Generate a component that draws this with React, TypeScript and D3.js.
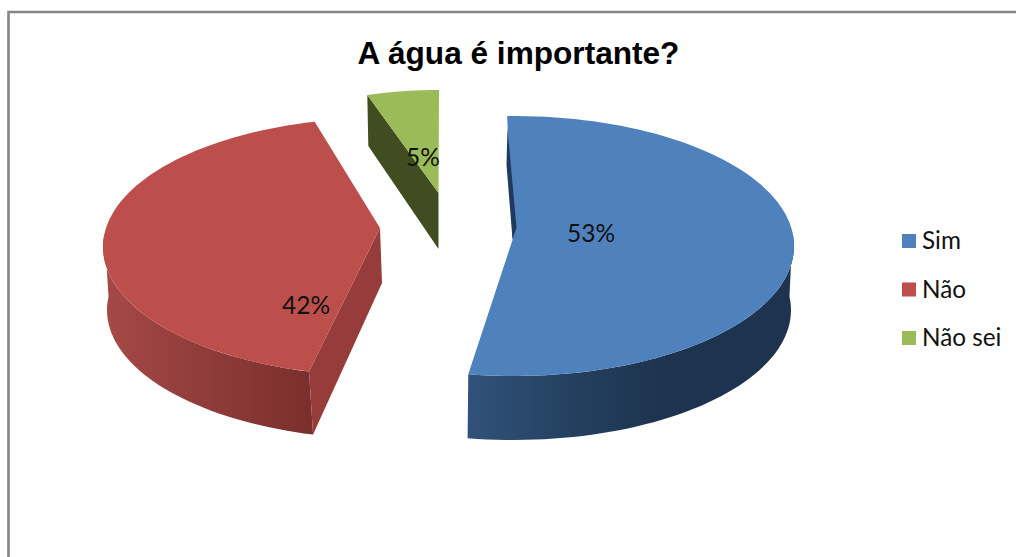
import React from "react";
import * as d3 from "d3";

// Survey answers, in percent
const categories = ["Sim", "Não", "Não sei"];
const shares = [53, 42, 5];
const titleText = "A água é importante?";

const faceColors = ["#4f81bd", "#bc4f4c", "#9bbb59"];
const cutColors = ["#1f3a5c", "#963c3a", "#414d20"];

type Pt = [number, number];

// Each exploded slice has its own projected ellipse, since the perspective
// shifts and scales the pieces differently. `shift` and `inset` move and shrink
// the lower rim relative to the upper one.
const slicePlacement = [
  { cx: 514, cy: 246, rx: 280, ry: 130, tilt: -1.4, apex: [512.5, 240] as Pt, depth: 64, inset: 2, shift: -1 },
  { cx: 381, cy: 247, rx: 278, ry: 129, tilt: 4.2, apex: [380, 228] as Pt, depth: 63, inset: 0, shift: 4 },
  { cx: 439, cy: 193, rx: 232, ry: 103, tilt: 0, apex: [438.5, 193] as Pt, depth: 52, inset: 0, shift: 0 },
];

const labelSpots: Pt[] = [[591, 242], [306, 314], [423, 166]];

const pieAngles = d3.pie<number>().sort(null)(shares);
const toDeg = (r: number) => (r * 180) / Math.PI;
const line = d3.line<Pt>();

function rimPoints(
  p: (typeof slicePlacement)[number],
  a0: number,
  a1: number,
  dy = 0,
  inset = 0,
  dx = 0,
): Pt[] {
  const n = Math.max(2, Math.ceil(Math.abs(a1 - a0) / 2));
  return d3.range(n + 1).map((i) => {
    const t = ((a0 + ((a1 - a0) * i) / n) * Math.PI) / 180;
    return [p.cx + dx + (p.rx - inset) * Math.sin(t), p.cy + dy - p.ry * Math.cos(t)] as Pt;
  });
}

export default function App() {
  const legendY = d3.scaleLinear().domain([0, 2]).range([241, 338]);

  const slices = pieAngles.map((arc, i) => {
    const p = slicePlacement[i];
    const a0 = toDeg(arc.startAngle) + p.tilt;
    const a1 = toDeg(arc.endAngle) + p.tilt;
    return { i, p, a0, a1, rim: rimPoints(p, a0, a1) };
  });

  const frontWall = (s: (typeof slices)[number]) => {
    // Only the part of the rim that faces the viewer gets a wall
    const from = Math.max(s.a0, 84);
    const to = Math.min(s.a1, 276);
    if (to <= from) return null;
    const top = rimPoints(s.p, from, to);
    const bottom = rimPoints(s.p, from, to, s.p.depth, s.p.inset, s.p.shift).reverse();
    return line([...top, ...bottom]) + "Z";
  };

  const blue = slices[0];
  const red = slices[1];
  const green = slices[2];
  const redEnd = red.rim[0];
  const greenStart = green.rim[0];
  const [bax, bay] = blue.p.apex;
  const [rax, ray] = red.p.apex;
  const [gax, gay] = green.p.apex;

  const cutWalls: { pts: Pt[]; fill: string }[] = [
    {
      fill: cutColors[0],
      pts: [[bax - 5, bay - 112], [bax - 6, bay - 75], [bax, bay - 1], [bax + 4, bay - 12]],
    },
    {
      fill: cutColors[1],
      pts: [[rax, ray], [rax + 2, ray + 55], [redEnd[0] + red.p.shift, redEnd[1] + red.p.depth], redEnd],
    },
    {
      fill: cutColors[2],
      pts: [greenStart, [gax, gay], [gax, gay + 56], [greenStart[0] + 1, greenStart[1] + 51]],
    },
  ];

  return (
    <svg
      width={1016}
      height={557}
      viewBox="0 0 1016 557"
      style={{ position: "absolute", left: 0, top: 0, background: "#fff" }}
    >
      <defs>
        <linearGradient id="wall-blue" gradientUnits="userSpaceOnUse" x1={468} x2={660} y1={0} y2={0}>
          <stop offset="0" stopColor="#30527a" />
          <stop offset="0.55" stopColor="#23405f" />
          <stop offset="1" stopColor="#1e334f" />
        </linearGradient>
        <linearGradient id="wall-red" gradientUnits="userSpaceOnUse" x1={312} x2={105} y1={0} y2={0}>
          <stop offset="0" stopColor="#7a2f2d" />
          <stop offset="0.55" stopColor="#913d3b" />
          <stop offset="1" stopColor="#a54946" />
        </linearGradient>
      </defs>

      <path d="M8.5,557V12H1016" fill="none" stroke="#868686" strokeWidth={2.6} />

      <text
        x={518.5}
        y={64}
        textAnchor="middle"
        fontFamily="'Liberation Sans', Arial, sans-serif"
        fontWeight={700}
        fontSize={31.6}
        fill="#000"
      >
        {titleText}
      </text>

      {slices.map((s) => {
        const wall = frontWall(s);
        return wall ? (
          <path key={s.i} d={wall} fill={s.i === 0 ? "url(#wall-blue)" : s.i === 1 ? "url(#wall-red)" : cutColors[2]} />
        ) : null;
      })}

      {cutWalls.slice(1).map((w, i) => (
        <path key={i} d={line(w.pts) + "Z"} fill={w.fill} />
      ))}

      {slices.map((s) => (
        <path key={s.i} d={line([s.p.apex, ...s.rim]) + "Z"} fill={faceColors[s.i]} />
      ))}

      <path d={line(cutWalls[0].pts) + "Z"} fill={cutWalls[0].fill} />

      {shares.map((v, i) => (
        <text
          key={i}
          x={labelSpots[i][0]}
          y={labelSpots[i][1]}
          textAnchor="middle"
          fontFamily="Lato, sans-serif"
          fontSize={24.5}
          fill="#111"
        >
          {v}%
        </text>
      ))}

      {categories.map((c, i) => (
        <g key={c} transform={`translate(902,${legendY(i)})`}>
          <rect x={0} y={-7} width={14} height={14} fill={faceColors[i]} />
          <text x={20} y={8} fontFamily="Lato, sans-serif" fontSize={24.3} fill="#111">
            {c}
          </text>
        </g>
      ))}
    </svg>
  );
}
